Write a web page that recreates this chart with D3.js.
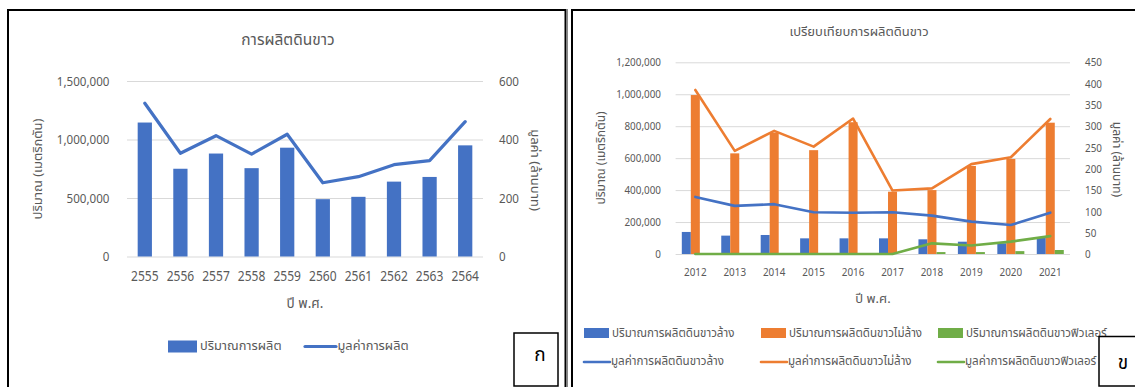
<!DOCTYPE html>
<html>
<head>
<meta charset="utf-8">
<script src="https://cdn.jsdelivr.net/npm/d3@7"></script>
<style>
  body { margin: 0; background: #fff; }
  svg text { font-family: "Noto Sans Thai", "Noto Sans", sans-serif; fill: #595959; }
</style>
</head>
<body>
<svg id="chart" width="1135" height="387"></svg>
<script>
// ---- Panel ก : kaolin production (Thai Buddhist years) ----
const yearsBE = ["2555", "2556", "2557", "2558", "2559", "2560", "2561", "2562", "2563", "2564"];
const productionQty = [1145000, 750000, 880000, 755000, 930000, 490000, 510000, 640000, 680000, 950000];
const productionValue = [524, 353, 413, 350, 418, 252, 273, 314, 328, 461];
const qtyTicksA = [0, 500000, 1000000, 1500000];
const valueTicksA = [0, 200, 400, 600];

// ---- Panel ข : washed / unwashed / filler kaolin ----
const yearsCE = ["2012", "2013", "2014", "2015", "2016", "2017", "2018", "2019", "2020", "2021"];
const qtyWashed = [138000, 115000, 119000, 98000, 98000, 98000, 92000, 77000, 67000, 100000];
const qtyUnwashed = [995000, 630000, 760000, 650000, 825000, 390000, 400000, 551000, 595000, 822000];
const qtyFiller = [0, 0, 0, 0, 0, 0, 12000, 12000, 18000, 25000];
const valWashed = [134, 113, 117, 98, 97, 98, 90, 76, 68, 97];
const valUnwashed = [385, 242, 289, 252, 318, 149, 154, 211, 227, 317];
const valFiller = [0, 0, 0, 0, 0, 0, 25, 20, 29, 42];
const qtyTicksB = [0, 200000, 400000, 600000, 800000, 1000000, 1200000];
const valueTicksB = [0, 50, 100, 150, 200, 250, 300, 350, 400, 450];

const BLUE = "#4472C4", ORANGE = "#ED7D31", GREEN = "#70AD47";
const GRID = "#D9D9D9", TEXT = "#595959";
const fmt = d3.format(",");
const NARROW = 0.86;   // horizontal squeeze for numeric labels

const svg = d3.select("#chart");
svg.append("rect").attr("width", 1135).attr("height", 387).attr("fill", "#fff");

// panel frames
svg.append("rect").attr("x", 8).attr("y", 10).attr("width", 557.5).attr("height", 400)
  .attr("fill", "none").attr("stroke", "#000").attr("stroke-width", 2);
svg.append("line").attr("x1", 567.5).attr("x2", 567.5).attr("y1", 9).attr("y2", 387)
  .attr("stroke", "#888").attr("stroke-width", 1);
svg.append("rect").attr("x", 572).attr("y", 10).attr("width", 600).attr("height", 400)
  .attr("fill", "none").attr("stroke", "#000").attr("stroke-width", 2);

// narrow a text horizontally around its own anchor point
function squeeze(texts, s) {
  texts.each(function () {
    const x = +this.getAttribute("x") || 0;
    d3.select(this).attr("transform", `translate(${x},0) scale(${s},1) translate(${-x},0)`);
  });
}

function drawAxes(g, c) {
  // gridlines from the primary axis
  g.append("g").attr("transform", `translate(${c.x0},0)`)
    .call(d3.axisLeft(c.yL).tickValues(c.ticksL).tickSize(-(c.x1 - c.x0)).tickFormat(""))
    .call(a => a.select(".domain").remove())
    .call(a => a.selectAll("line").attr("stroke", GRID).attr("stroke-width", 1));
  // left tick labels
  g.append("g").attr("transform", `translate(${c.x0},0)`)
    .call(d3.axisLeft(c.yL).tickValues(c.ticksL).tickSize(0).tickPadding(c.padL).tickFormat(fmt))
    .call(a => a.select(".domain").remove())
    .call(a => a.selectAll("text").attr("font-size", c.tickFont).call(squeeze, NARROW));
  // right tick labels
  g.append("g").attr("transform", `translate(${c.x1},0)`)
    .call(d3.axisRight(c.yR).tickValues(c.ticksR).tickSize(0).tickPadding(c.padR))
    .call(a => a.select(".domain").remove())
    .call(a => a.selectAll("text").attr("font-size", c.tickFont).call(squeeze, NARROW));
  // category labels
  g.append("g").attr("transform", `translate(0,${c.yL(0)})`)
    .call(d3.axisBottom(c.x).tickSize(0).tickPadding(c.padX))
    .call(a => a.select(".domain").remove())
    .call(a => a.selectAll("text").attr("font-size", c.xFont).call(squeeze, NARROW));
  g.selectAll("g").attr("font-family", null);
}

function axisTitles(g, t) {
  g.append("text").attr("x", t.titleX).attr("y", t.titleY).attr("text-anchor", "middle")
    .attr("dominant-baseline", "central").attr("font-size", t.titleFont).text(t.title);
  g.append("text").attr("transform", `translate(${t.yLx},${t.yLy}) rotate(-90)`)
    .attr("text-anchor", "middle").attr("dominant-baseline", "central")
    .attr("font-size", t.axisFont).text("ปริมาณ (เมตริกตัน)");
  g.append("text").attr("transform", `translate(${t.yRx},${t.yRy}) rotate(90)`)
    .attr("text-anchor", "middle").attr("dominant-baseline", "central")
    .attr("font-size", t.axisFont).text("มูลค่า (ล้านบาท)");
  g.append("text").attr("x", t.xTx).attr("y", t.xTy).attr("text-anchor", "middle")
    .attr("dominant-baseline", "central").attr("font-size", t.xTFont).text("ปี พ.ศ.");
}

function letterBox(x, y, w, h, tx, ty, label) {
  svg.append("rect").attr("x", x).attr("y", y).attr("width", w).attr("height", h)
    .attr("fill", "#fff").attr("stroke", "#000").attr("stroke-width", 1.5);
  svg.append("text").attr("x", tx).attr("y", ty).attr("text-anchor", "middle")
    .attr("dominant-baseline", "central").attr("font-size", 19).style("fill", "#000")
    .text(label);
}

// ================= Panel ก =================
{
  const g = svg.append("g");
  const c = {
    x0: 127, x1: 483,
    x: d3.scaleBand().domain(yearsBE).range([127, 483]),
    yL: d3.scaleLinear().domain([0, 1500000]).range([256.5, 81]),
    yR: d3.scaleLinear().domain([0, 600]).range([256.5, 81]),
    ticksL: qtyTicksA, ticksR: valueTicksA,
    padL: 17.5, padR: 16, padX: 14.5, tickFont: 13.5, xFont: 14
  };
  drawAxes(g, c);
  const bw = c.x.bandwidth() * 0.4;
  g.append("g").selectAll("rect").data(productionQty).join("rect")
    .attr("x", (d, i) => c.x(yearsBE[i]) + (c.x.bandwidth() - bw) / 2)
    .attr("y", d => c.yL(d)).attr("width", bw).attr("height", d => c.yL(0) - c.yL(d))
    .attr("fill", BLUE);
  const line = d3.line().x((d, i) => c.x(yearsBE[i]) + c.x.bandwidth() / 2).y(d => c.yR(d));
  g.append("path").datum(productionValue).attr("d", line).attr("fill", "none")
    .attr("stroke", BLUE).attr("stroke-width", 3.2).attr("stroke-linejoin", "round")
    .attr("stroke-linecap", "round");
  axisTitles(g, {
    title: "การผลิตดินขาว", titleX: 288, titleY: 40, titleFont: 15.5,
    yLx: 38, yLy: 169, yRx: 535, yRy: 170, axisFont: 13,
    xTx: 305, xTy: 304, xTFont: 13.5
  });
  // legend
  const lg = g.append("g");
  lg.append("rect").attr("x", 168).attr("y", 340.5).attr("width", 29).attr("height", 12).attr("fill", BLUE);
  lg.append("text").attr("x", 200).attr("y", 346).attr("dominant-baseline", "central")
    .attr("font-size", 12.8).text("ปริมาณการผลิต");
  lg.append("line").attr("x1", 305).attr("x2", 336).attr("y1", 346.5).attr("y2", 346.5)
    .attr("stroke", BLUE).attr("stroke-width", 3.2).attr("stroke-linecap", "round");
  lg.append("text").attr("x", 337.5).attr("y", 346).attr("dominant-baseline", "central")
    .attr("font-size", 12.8).text("มูลค่าการผลิต");
}
letterBox(514, 333, 44, 53, 540, 355, "ก");

// ================= Panel ข =================
{
  const g = svg.append("g");
  const c = {
    x0: 675.6, x1: 1070,
    x: d3.scaleBand().domain(yearsCE).range([675.6, 1070]),
    yL: d3.scaleLinear().domain([0, 1200000]).range([254, 62.3]),
    yR: d3.scaleLinear().domain([0, 450]).range([254, 62.3]),
    ticksL: qtyTicksB, ticksR: valueTicksB,
    padL: 14.6, padR: 15, padX: 14, tickFont: 11.5, xFont: 11.5
  };
  drawAxes(g, c);
  const groups = ["washed", "unwashed", "filler"];
  const barSeries = [qtyWashed, qtyUnwashed, qtyFiller];
  const colors = [BLUE, ORANGE, GREEN];
  const groupW = c.x.bandwidth() * 0.685;
  const sub = d3.scaleBand().domain(groups).range([0, groupW]);
  barSeries.forEach((vals, s) => {
    g.append("g").selectAll("rect").data(vals).join("rect")
      .attr("x", (d, i) => c.x(yearsCE[i]) + (c.x.bandwidth() - groupW) / 2 + sub(groups[s]))
      .attr("y", d => c.yL(d)).attr("width", sub.bandwidth())
      .attr("height", d => c.yL(0) - c.yL(d)).attr("fill", colors[s]);
  });
  const line = d3.line().x((d, i) => c.x(yearsCE[i]) + c.x.bandwidth() / 2).y(d => c.yR(d));
  [valWashed, valUnwashed, valFiller].forEach((vals, s) => {
    g.append("path").datum(vals).attr("d", line).attr("fill", "none")
      .attr("stroke", colors[s]).attr("stroke-width", 2.6).attr("stroke-linejoin", "round")
      .attr("stroke-linecap", "round");
  });
  axisTitles(g, {
    title: "เปรียบเทียบการผลิตดินขาว", titleX: 859, titleY: 32, titleFont: 13,
    yLx: 601, yLy: 158, yRx: 1117, yRy: 159.5, axisFont: 12,
    xTx: 873, xTy: 299, xTFont: 13
  });
  // legend: three bar swatches, then three line swatches
  const barNames = ["ปริมาณการผลิตดินขาวล้าง", "ปริมาณการผลิตดินขาวไม่ล้าง", "ปริมาณการผลิตดินขาวฟิวเลอร์"];
  const lineNames = ["มูลค่าการผลิตดินขาวล้าง", "มูลค่าการผลิตดินขาวไม่ล้าง", "มูลค่าการผลิตดินขาวฟิวเลอร์"];
  const colX = [584, 761, 938];
  colX.forEach((x, i) => {
    g.append("rect").attr("x", x).attr("y", 328).attr("width", 25).attr("height", 10).attr("fill", colors[i]);
    g.append("text").attr("x", x + 28).attr("y", 333).attr("dominant-baseline", "central")
      .attr("font-size", 11.6).text(barNames[i]);
    g.append("line").attr("x1", x).attr("x2", x + 26).attr("y1", 362).attr("y2", 362)
      .attr("stroke", colors[i]).attr("stroke-width", 2.6).attr("stroke-linecap", "round");
    g.append("text").attr("x", x + 27).attr("y", 361.5).attr("dominant-baseline", "central")
      .attr("font-size", 11.6).text(lineNames[i]);
  });
}
letterBox(1099, 336.5, 60, 49.5, 1123, 363, "ข");
</script>
</body>
</html>
